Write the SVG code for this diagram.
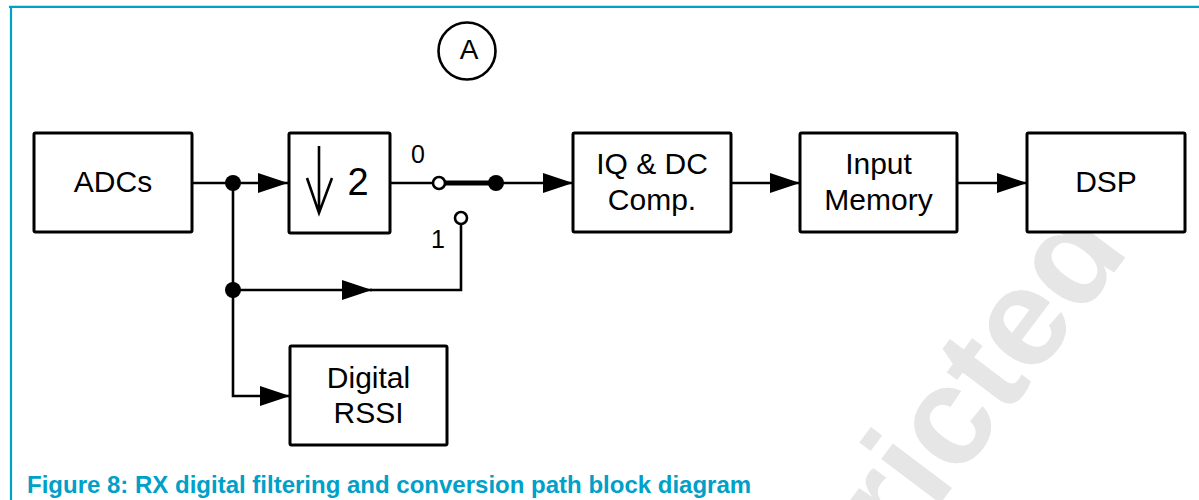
<svg xmlns="http://www.w3.org/2000/svg" width="1199" height="500" viewBox="0 0 1199 500">
<defs>
<style>
.box{fill:#fff;stroke:#000;stroke-width:3;stroke-linejoin:round}
.ln{fill:none;stroke:#000;stroke-width:2.6}
.lbl{font-family:"Liberation Sans",Arial,sans-serif;font-size:30px;fill:#000;text-anchor:middle}
.num{font-family:"Liberation Sans",Arial,sans-serif;font-size:25px;fill:#000;text-anchor:middle}
.border{stroke:#00a0c8;stroke-width:2.2;fill:none}
</style>
<marker id="ah" markerUnits="userSpaceOnUse" markerWidth="30" markerHeight="20" refX="30" refY="10" orient="auto" viewBox="0 0 30 20">
<path d="M0,0 L30,10 L0,20 z" fill="#000"/>
</marker>
</defs>
<rect width="1199" height="500" fill="#fff"/>
<text transform="translate(719,797) rotate(-53)" font-family="Liberation Sans,Arial,sans-serif" font-weight="bold" font-size="140" fill="#e6e6e6">Restricted</text>
<path class="border" d="M9,6.8 H1199 M11,6 V500"/>

<g id="connectors">
<line class="ln" x1="192" y1="183" x2="288" y2="183" marker-end="url(#ah)"/>
<path class="ln" d="M233,183 V396 H290" marker-end="url(#ah)"/>
<line class="ln" x1="390" y1="183" x2="433" y2="183"/>
<line x1="445" y1="183" x2="496" y2="183" stroke="#000" stroke-width="5"/>
<line class="ln" x1="496" y1="183" x2="573" y2="183" marker-end="url(#ah)"/>
<line class="ln" x1="233" y1="290" x2="372" y2="290" marker-end="url(#ah)"/>
<path class="ln" d="M370,290 H461 V224"/>
<line class="ln" x1="731" y1="183" x2="800" y2="183" marker-end="url(#ah)"/>
<line class="ln" x1="957" y1="183" x2="1027" y2="183" marker-end="url(#ah)"/>
<circle cx="233" cy="183" r="8" fill="#000"/>
<circle cx="233" cy="290" r="8" fill="#000"/>
<circle cx="496" cy="183" r="8" fill="#000"/>
<circle cx="439" cy="183" r="6" fill="#fff" stroke="#000" stroke-width="2.6"/>
<circle cx="461" cy="218" r="6" fill="#fff" stroke="#000" stroke-width="2.6"/>
<text class="num" x="418" y="163">0</text>
<text class="num" x="438" y="248">1</text>
</g>

<g id="marker-A">
<circle cx="467" cy="51" r="28.5" fill="#fff" stroke="#000" stroke-width="2.6"/>
<text x="469" y="59" font-family="Liberation Sans,Arial,sans-serif" font-size="28" text-anchor="middle">A</text>
</g>

<g id="adcs">
<rect class="box" x="34" y="133" width="158" height="99" rx="1.5"/>
<text class="lbl" x="113" y="192">ADCs</text>
</g>

<g id="decimate">
<rect class="box" x="289" y="133" width="101" height="100" rx="1.5"/>
<path class="ln" d="M319,146 V213 M307,178 L319,213 L332,178"/>
<text x="358" y="195" font-family="Liberation Sans,Arial,sans-serif" font-size="38" text-anchor="middle">2</text>
</g>

<g id="iqdc">
<rect class="box" x="573" y="133" width="158" height="99" rx="1.5"/>
<text class="lbl" x="652" y="174">IQ &amp; DC</text>
<text class="lbl" x="652" y="210">Comp.</text>
</g>

<g id="inputmem">
<rect class="box" x="800" y="133" width="157" height="99" rx="1.5"/>
<text class="lbl" x="878.5" y="174">Input</text>
<text class="lbl" x="878.5" y="210">Memory</text>
</g>

<g id="dsp">
<rect class="box" x="1027" y="133" width="158" height="99" rx="1.5"/>
<text class="lbl" x="1106" y="192">DSP</text>
</g>

<g id="rssi">
<rect class="box" x="290" y="346" width="157" height="99" rx="1.5"/>
<text class="lbl" x="368.5" y="388">Digital</text>
<text class="lbl" x="368.5" y="423">RSSI</text>
</g>

<text x="27" y="493" font-family="Liberation Sans,Arial,sans-serif" font-weight="bold" font-size="24" fill="#00a0c8">Figure 8: RX digital filtering and conversion path block diagram</text>
</svg>
